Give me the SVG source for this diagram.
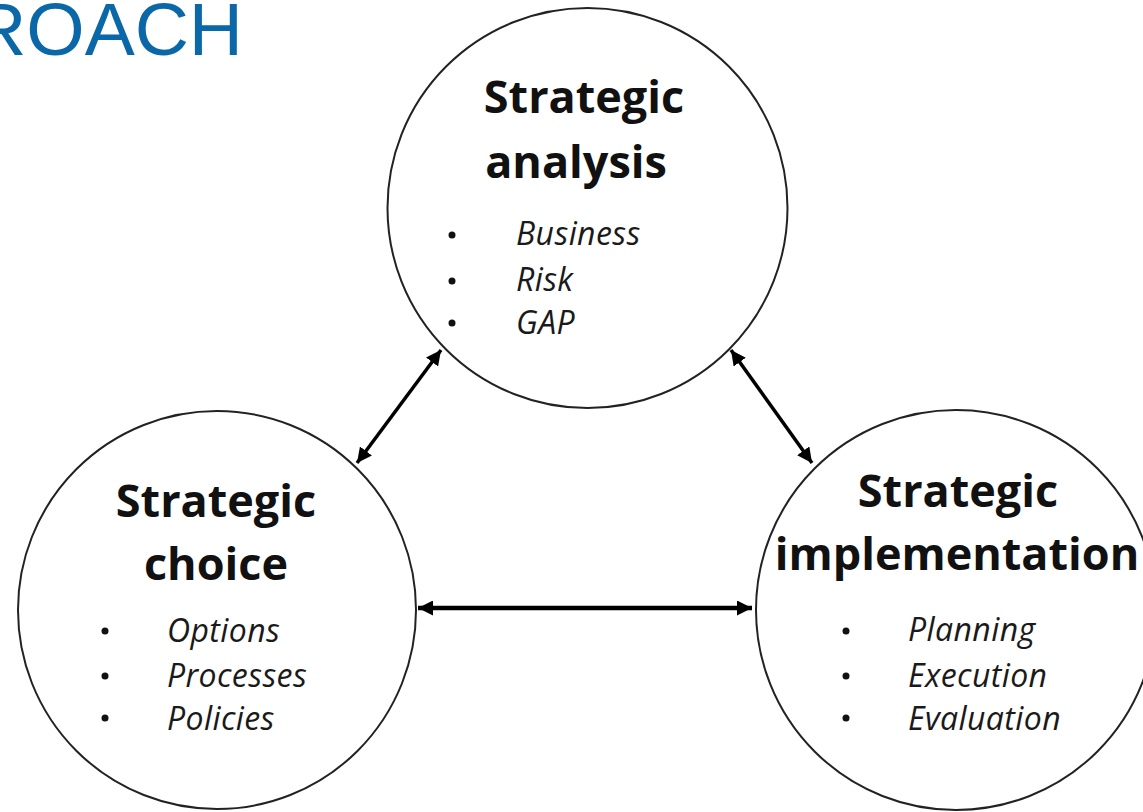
<svg xmlns="http://www.w3.org/2000/svg" width="1143" height="812" viewBox="0 0 1143 812">
<style>
.circ{fill:#fff;stroke:#222;stroke-width:2}
.head{font-family:"Open Sans","Liberation Sans",sans-serif;font-weight:bold;font-size:45px;fill:#111;text-anchor:middle}
.item{font-family:"Open Sans","Liberation Sans",sans-serif;font-style:italic;font-size:32px;letter-spacing:0.4px;fill:#1a1a1a}
.bul{fill:#111}
.conn{stroke:#000;stroke-width:3.5;fill:none;marker-start:url(#arr);marker-end:url(#arr)}
.thick{stroke-width:4.5}
.title{font-family:"Liberation Sans",Arial,sans-serif;font-size:75px;fill:#0a67a8}
</style>
<defs>
<marker id="arr" viewBox="0 0 10 10" refX="10" refY="5" markerWidth="15" markerHeight="15" markerUnits="userSpaceOnUse" orient="auto-start-reverse">
<path d="M0,0 L10,5 L0,10 Z" fill="#000"/>
</marker>
</defs>
<rect width="1143" height="812" fill="#fff"/>
<text class="title" x="243" y="55" text-anchor="end">ROACH</text>
<g id="node-analysis">
<circle class="circ" cx="587.5" cy="208" r="200"/>
<text class="head" x="584" y="113">Strategic</text>
<text class="head" x="576" y="178">analysis</text>
<circle class="bul" cx="452" cy="235" r="3.5"/>
<circle class="bul" cx="452" cy="281" r="3.5"/>
<circle class="bul" cx="452" cy="323" r="3.5"/>
<text class="item" x="516" y="245">Business</text>
<text class="item" x="516" y="291">Risk</text>
<text class="item" x="516" y="334">GAP</text>
</g>
<g id="node-choice">
<circle class="circ" cx="217" cy="610" r="199"/>
<text class="head" x="216" y="517">Strategic</text>
<text class="head" x="216" y="580">choice</text>
<circle class="bul" cx="105" cy="631" r="3.5"/>
<circle class="bul" cx="105" cy="676" r="3.5"/>
<circle class="bul" cx="105" cy="718" r="3.5"/>
<text class="item" x="167" y="642">Options</text>
<text class="item" x="167" y="687">Processes</text>
<text class="item" x="167" y="730">Policies</text>
</g>
<g id="node-implementation">
<circle class="circ" cx="956" cy="610" r="200"/>
<text class="head" x="958" y="507">Strategic</text>
<text class="head" x="957" y="570">implementation</text>
<circle class="bul" cx="846" cy="631" r="3.5"/>
<circle class="bul" cx="846" cy="676" r="3.5"/>
<circle class="bul" cx="846" cy="718" r="3.5"/>
<text class="item" x="908" y="641">Planning</text>
<text class="item" x="908" y="687">Execution</text>
<text class="item" x="908" y="730">Evaluation</text>
</g>
<g id="connectors">
<line class="conn" x1="441" y1="350" x2="357" y2="463"/>
<line class="conn" x1="731" y1="350" x2="812" y2="463"/>
<line class="conn thick" x1="418" y1="608" x2="752" y2="608"/>
</g>
</svg>
